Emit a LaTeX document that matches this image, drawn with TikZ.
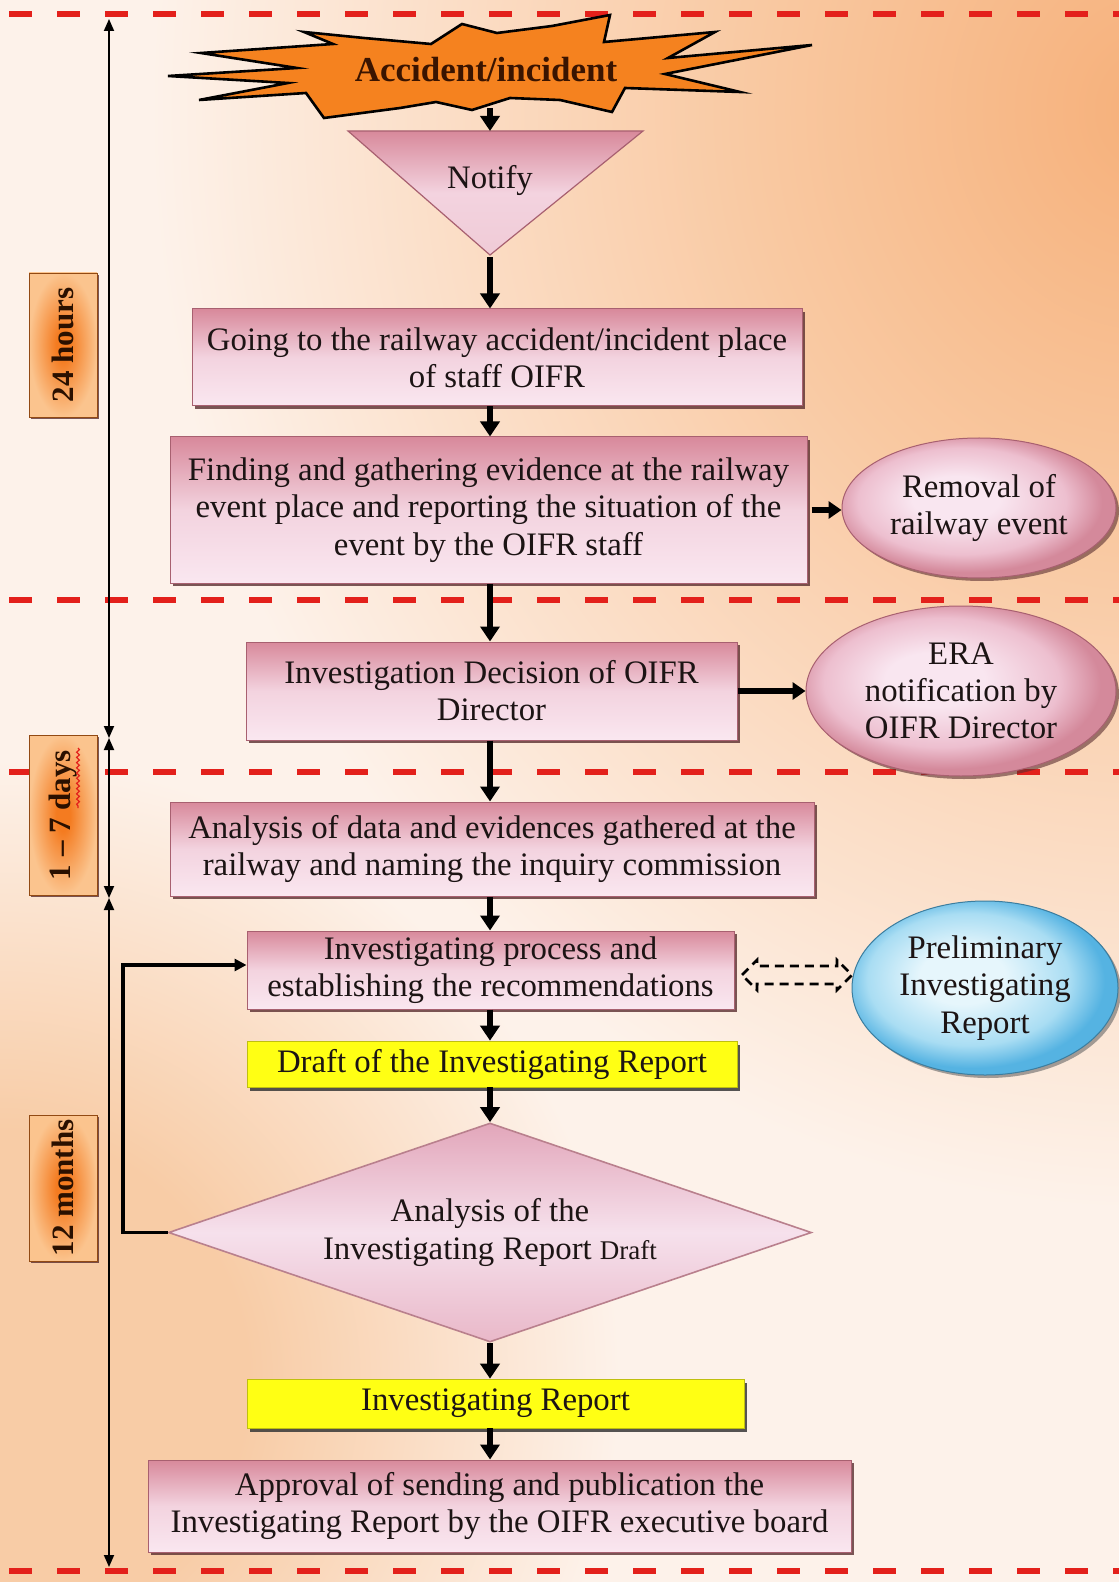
\documentclass[tikz,border=0pt]{standalone}
\usepackage{fontspec}
\setmainfont{Liberation Serif}
\usetikzlibrary{arrows.meta,shadows,shapes.geometric,decorations.pathmorphing}

\definecolor{bgbase}{HTML}{FDF2EA}
\definecolor{bgorange}{HTML}{F6B07A}
\definecolor{bgor2}{HTML}{F9C9A2}
\definecolor{bgpeach}{HTML}{F8CCA6}
\definecolor{sepred}{HTML}{E3201B}
\definecolor{pinktop}{HTML}{D8899B}
\definecolor{pinkmid}{HTML}{F3D3DF}
\definecolor{pinkbot}{HTML}{FAE7F0}
\definecolor{boxedge}{HTML}{A86070}
\definecolor{shadowc}{HTML}{5A2E30}
\definecolor{textc}{HTML}{1C1414}
\definecolor{starfill}{HTML}{F5821F}
\definecolor{startext}{HTML}{3A1400}
\definecolor{yel}{HTML}{FFFF14}
\definecolor{pkin}{HTML}{F9E6F0}
\definecolor{pkmid}{HTML}{EDBFCF}
\definecolor{pkout}{HTML}{D4899B}
\definecolor{blin}{HTML}{E6F6FC}
\definecolor{blmid}{HTML}{A9DDF3}
\definecolor{blout}{HTML}{55B3E2}
\definecolor{orin}{HTML}{F47B20}
\definecolor{orout}{HTML}{FBC48E}
\definecolor{labtext}{HTML}{2A1000}
\definecolor{diatop}{HTML}{E2A6BA}
\definecolor{diamid}{HTML}{F6E1EC}
\definecolor{diabot}{HTML}{E9B8C9}

\pgfdeclareradialshading{pinkell}{\pgfpoint{-5bp}{4bp}}{color(0bp)=(pkin); color(8bp)=(pkin); color(19bp)=(pkmid); color(25bp)=(pkout); color(50bp)=(pkout)}
\pgfdeclareradialshading{blueell}{\pgfpoint{-5bp}{4bp}}{color(0bp)=(blin); color(8bp)=(blin); color(19bp)=(blmid); color(25bp)=(blout); color(50bp)=(blout)}
\pgfdeclareradialshading{orlab}{\pgfpoint{0bp}{0bp}}{color(0bp)=(orin); color(5bp)=(orin); color(25bp)=(orout); color(50bp)=(orout)}
\pgfdeclareradialshading{bgorsh}{\pgfpoint{0bp}{0bp}}{color(0bp)=(bgorange); color(10bp)=(bgor2); color(25bp)=(bgbase); color(50bp)=(bgbase)}
\pgfdeclareradialshading{bgpsh}{\pgfpoint{0bp}{0bp}}{color(0bp)=(bgpeach); color(10bp)=(bgpeach); color(25bp)=(bgbase); color(50bp)=(bgbase)}

\newcommand\myflowfont{\fontsize{16.4}{18.6}\selectfont}
\newcommand\mylabfont{\fontsize{15.5}{17}\selectfont\bfseries}
\newcommand\mystarfont{\fontsize{17.5}{19}\selectfont\bfseries}

\begin{document}
\begin{tikzpicture}[x=0.5pt,y=-0.5pt,
  sepline/.style={draw=sepred, line width=2.6pt, dash pattern=on 11.5pt off 12.5pt},
  pbox/.style={rectangle, draw=boxedge, line width=0.5pt, top color=pinktop, bottom color=pinkbot, middle color=pinkmid,
    drop shadow={shadow xshift=1.5pt, shadow yshift=-1.5pt, fill=shadowc, opacity=0.8},
    align=center, inner sep=0pt, font=\myflowfont, text=textc},
  ybox/.style={rectangle, fill=yel, draw=yel!75!black, line width=0.3pt,
    drop shadow={shadow xshift=1.6pt, shadow yshift=-1.8pt, fill=black!78, opacity=0.85},
    align=center, inner sep=0pt, font=\myflowfont, text=textc},
  pell/.style={ellipse, draw=boxedge, line width=0.5pt, shade, shading=pinkell,
    drop shadow={shadow xshift=1.5pt, shadow yshift=-1.5pt, fill=shadowc, opacity=0.6},
    align=center, inner sep=0pt, font=\myflowfont, text=textc},
  bell/.style={ellipse, draw=blout!70!black, line width=0.5pt, shade, shading=blueell,
    drop shadow={shadow xshift=1.5pt, shadow yshift=-1.5pt, fill=black!60, opacity=0.6},
    align=center, inner sep=0pt, font=\myflowfont, text=textc},
  diabox/.style={diamond, aspect=2.94, draw=boxedge!80, line width=0.8pt, top color=diatop, bottom color=diabot, middle color=diamid,
    align=center, inner sep=0pt, font=\myflowfont, text=textc},
  labbox/.style={rectangle, draw=orin!60!black, line width=0.4pt, shade, shading=orlab,
    drop shadow={shadow xshift=1.2pt, shadow yshift=-1.2pt, fill=shadowc, opacity=0.8}, inner sep=0pt},
  labtxt/.style={rotate=90, font=\mylabfont, text=labtext, inner sep=0pt},
  flowarr/.style={line width=2.7pt, -{Triangle[length=7.5pt,width=9.5pt]}},
  sidearr/.style={line width=2.7pt, -{Triangle[length=6.5pt,width=8.5pt]}},
  loopst/.style={line width=1.7pt, line join=miter, -{Triangle[length=6pt,width=6pt]}},
  timeln/.style={line width=0.9pt, {Triangle[length=6pt,width=5pt]}-{Triangle[length=6pt,width=5pt]}}
]
\useasboundingbox (0,0) rectangle (1119,1582);

% background
\begin{scope}
  \clip (0,0) rectangle (1119,1582);
  \fill[bgbase] (0,0) rectangle (1119,1582);
  \shade[shading=bgorsh] (1150,110) ellipse [x radius=1000, y radius=1100];
  \shade[shading=bgpsh] (0,1380) circle [radius=620];
\end{scope}

% separators
\draw[sepline] (9,14) -- (1119,14);
\draw[sepline] (9,600) -- (1119,600);
\draw[sepline] (9,772) -- (1119,772);
\draw[sepline] (9,1571) -- (1119,1571);

% time labels
\node[labbox, minimum width=34pt, minimum height=72pt] (l24) at (63,345) {};
\node[labtxt] (l24t) at (l24.center) {24 hours};
\node[labbox, minimum width=34pt, minimum height=80pt] (l17) at (63,815) {};
\node[labtxt] (l17t) at (l17.center) {1 -- 7 days};
\draw[sepred, line width=0.6pt, decorate, decoration={snake, amplitude=0.7pt, segment length=2.6pt}] (78,748) -- (78,808);
\node[labbox, minimum width=34pt, minimum height=73pt] (l12) at (63,1188) {};
\node[labtxt] (l12t) at (l12.center) {12 months};

% timeline
\coordinate (t0) at (109,19);
\coordinate (t1) at (109,738);
\coordinate (t2) at (109,898);
\coordinate (t3) at (109,1567);
\draw[timeln] (t0) -- (t1);
\draw[timeln] (t1) -- (t2);
\draw[timeln] (t2) -- (t3);

% star
\filldraw[fill=starfill, draw=black, line width=1.3pt, line join=miter]
  (304,32) -- (364,38) -- (431,44) -- (462,24) -- (497,33) -- (552,26) -- (610,15) -- (604,42)
  -- (715,32) -- (668,58) -- (812,45) -- (665,74) -- (740,92) -- (625,88) -- (612,112)
  -- (560,100) -- (510,98) -- (472,110) -- (436,102) -- (400,108) -- (324,118) -- (306,93)
  -- (199,100) -- (288,83) -- (168,76) -- (297,68) -- (201,53) -- (333,44) -- cycle;
\node[font=\mystarfont, text=startext] (acc) at (486,70) {Accident/incident};

% notify triangle
\coordinate (ntl) at (348,131);
\coordinate (ntr) at (643,131);
\coordinate (nap) at (490,255);
\shade[top color=pinktop, bottom color=pinkbot!70!pinktop, middle color=pinkmid] (ntl) -- (ntr) -- (nap) -- cycle;
\draw[boxedge, line width=0.6pt] (ntl) -- (ntr) -- (nap) -- cycle;
\node[font=\myflowfont, text=textc] (notify) at (490,180) {Notify};

% boxes
\node[pbox, minimum width=305pt, minimum height=48.5pt] (b1) at (497,357.5) {Going to the railway accident/incident place\\of staff OIFR};
\node[pbox, minimum width=318.5pt, minimum height=73pt] (b2) at (488.5,510) {Finding and gathering evidence at the railway\\event place and reporting the situation of the\\event by the OIFR staff};
\node[pbox, minimum width=245.5pt, minimum height=49pt] (b3) at (491.5,691) {Investigation Decision of OIFR\\Director};
\node[pbox, minimum width=322pt, minimum height=47pt] (b4) at (492,849) {Analysis of data and evidences gathered at the\\railway and naming the inquiry commission};
\node[pbox, minimum width=243.5pt, minimum height=39pt] (b5) at (490.5,970) {Investigating process and\\establishing the recommendations};
\node[ybox, minimum width=245pt, minimum height=23pt] (dr) at (492,1064) {Draft of the Investigating Report};
\node[diabox, minimum width=321.5pt, minimum height=109.5pt] (dm) at (490,1232.5) {Analysis of the\\Investigating Report {\fontsize{13.5}{15}\selectfont Draft}};
\node[ybox, minimum width=248.5pt, minimum height=24.5pt] (ir) at (495.5,1403.5) {Investigating Report};
\node[pbox, minimum width=351.5pt, minimum height=46pt] (b6) at (499.5,1506) {Approval of sending and publication the\\Investigating Report by the OIFR executive board};

% ellipses
\node[pell, minimum width=137pt, minimum height=70pt] (rem) at (979,508) {Removal of\\railway event};
\node[pell, minimum width=155pt, minimum height=85pt] (era) at (961,691) {ERA\\notification by\\OIFR Director};
\node[bell, minimum width=133pt, minimum height=87pt] (pr) at (985,988) {Preliminary\\Investigating\\Report};

% connectors
\coordinate (ax) at (490,0);
\coordinate (accb) at (490,108);
\draw[flowarr] (accb) -- (ntl -| ax);
\draw[flowarr] (nap) ++(0,2) -- (b1.north -| ax);
\draw[flowarr] (b1.south -| ax) -- (b2.north -| ax);
\draw[flowarr] (b2.south -| ax) -- (b3.north -| ax);
\draw[flowarr] (b3.south -| ax) -- (b4.north -| ax);
\draw[flowarr] (b4.south -| ax) -- (b5.north -| ax);
\draw[flowarr] (b5.south -| ax) -- (dr.north -| ax);
\draw[flowarr] (dr.south -| ax) -- (dm.north);
\draw[flowarr] (dm.south) -- (ir.north -| ax);
\draw[flowarr] (ir.south -| ax) -- (b6.north -| ax);
\draw[sidearr] ([xshift=2pt]b2.east) -- (b2.east -| rem.west);
\draw[sidearr] (b3.east) -- (b3.east -| era.west);

% feedback loop
\coordinate (lx) at (123,965);
\draw[loopst] (dm.west) -- (dm.west -| lx) -- (lx) -- (lx -| b5.west);

% dashed double arrow
\draw[black, line width=1.3pt, dash pattern=on 4.5pt off 3pt, line join=miter]
  (742,975) -- (757,960) -- (757,966) -- (837,966) -- (837,960) -- (852,975)
  -- (837,990) -- (837,984) -- (757,984) -- (757,990) -- cycle;
\end{tikzpicture}
\end{document}
